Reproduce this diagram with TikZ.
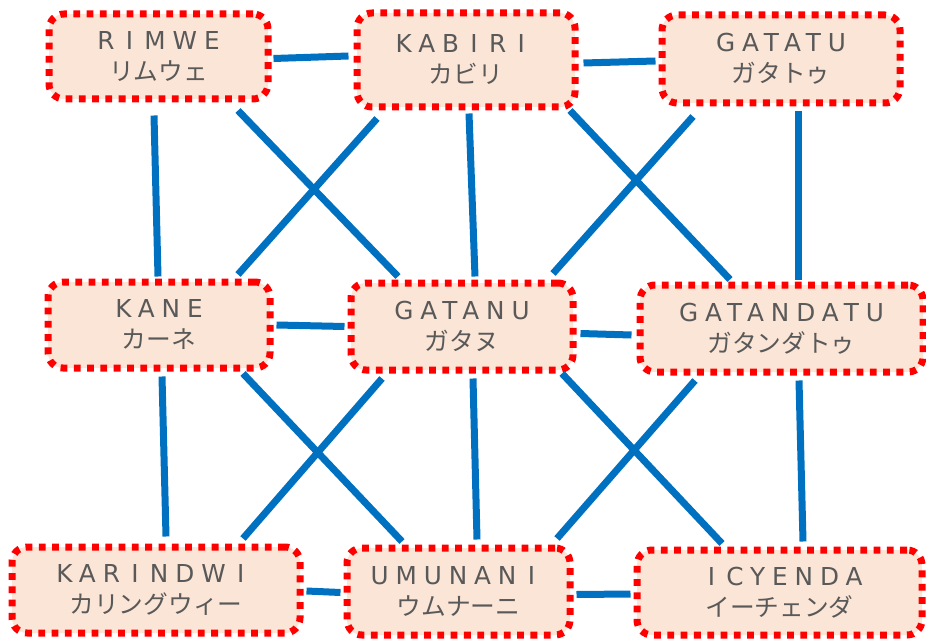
\documentclass[tikz,border=0pt]{standalone}
\usepackage{fontspec}
\setmainfont{Noto Sans CJK JP}
\newfontfamily\romafont[LetterSpace=28]{DejaVu Sans}
\definecolor{boxfill}{HTML}{FBE5D6}
\definecolor{linkblue}{HTML}{0070C0}
\definecolor{textgray}{HTML}{595959}
\newcommand{\wI}{\makebox[30pt]{I}}
\tikzset{
  village/.style={draw=red, fill=boxfill, line width=7pt, dash pattern=on 6.8pt off 6.5pt,
    rounded corners=15pt, inner sep=0pt, align=center, text=textgray,
    font=\fontsize{24.7}{31}\selectfont},
  link/.style={draw=linkblue, line width=7pt},
}

\begin{document}
\begin{tikzpicture}[x=1pt,y=-1pt]
    \useasboundingbox (0,0) rectangle (926,639);
    \node[village, minimum width=219pt, minimum height=85pt] (rimwe) at (158.5,56.5) {{\romafont R\wI MWE}\\リムウェ};
    \node[village, minimum width=218pt, minimum height=94pt] (kabiri) at (466,60) {{\romafont KAB\wI R\wI}\\カビリ};
    \node[village, minimum width=238pt, minimum height=88pt] (gatatu) at (781,59) {{\romafont GATATU}\\ガタトゥ};
    \node[village, minimum width=222pt, minimum height=86pt] (kane) at (159,325) {{\romafont KANE}\\カーネ};
    \node[village, minimum width=222pt, minimum height=87pt] (gatanu) at (462,326.5) {{\romafont GATANU}\\ガタヌ};
    \node[village, minimum width=283pt, minimum height=87pt] (gatandatu) at (781.5,328.5) {{\romafont GATANDATU}\\ガタンダトゥ};
    \node[village, minimum width=288pt, minimum height=86pt] (karindwi) at (156,590) {{\romafont KAR\wI NDW\wI}\\カリングウィー};
    \node[village, minimum width=223pt, minimum height=87pt] (umunani) at (458.5,591.5) {{\romafont UMUNAN\wI}\\ウムナーニ};
    \node[village, minimum width=285pt, minimum height=85pt] (icyenda) at (779.5,592.5) {{\romafont \wI CYENDA}\\イーチェンダ};

    % row links
    \draw[link] ([shift={(2,2)}]rimwe.east) -- ([shift={(-5,-4)}]kabiri.west);
    \draw[link] ([shift={(5,3)}]kabiri.east) -- ([shift={(-3,2)}]gatatu.west);
    \draw[link] ([shift={(3,0)}]kane.east) -- ([shift={(-3,0)}]gatanu.west);
    \draw[link] ([shift={(4,7)}]gatanu.east) -- ([shift={(-5,6.5)}]gatandatu.west);
    \draw[link] ([shift={(3,1)}]karindwi.east) -- ([shift={(-3,1)}]umunani.west);
    \draw[link] ([shift={(3,3)}]umunani.east) -- ([shift={(-3,1.5)}]icyenda.west);

    % column links
    \draw[link] ([shift={(-4.5,13)}]rimwe.south) -- ([shift={(-1,-2)}]kane.north);
    \draw[link] ([shift={(3,3)}]kabiri.south) -- ([shift={(13,-3)}]gatanu.north);
    \draw[link] ([shift={(17,5)}]gatatu.south) -- ([shift={(16.5,-2)}]gatandatu.north);
    \draw[link] ([shift={(3,5)}]kane.south) -- ([shift={(10,-7)}]karindwi.north);
    \draw[link] ([shift={(11,5)}]gatanu.south) -- ([shift={(18.5,-5)}]umunani.north);
    \draw[link] ([shift={(17.5,5)}]gatandatu.south) -- ([shift={(23.5,-5)}]icyenda.north);

    % crossings
    \draw[link] ([shift={(79.5,8)}]rimwe.south) -- ([shift={(-64,-3)}]gatanu.north);
    \draw[link] ([shift={(-89,8)}]kabiri.south) -- ([shift={(79,-4)}]kane.north);
    \draw[link] ([shift={(104,0)}]kabiri.south) -- ([shift={(-51.5,-2)}]gatandatu.north);
    \draw[link] ([shift={(-88,10)}]gatatu.south) -- ([shift={(91,-6)}]gatanu.north);
    \draw[link] ([shift={(84,2)}]kane.south) -- ([shift={(-56.5,-3)}]umunani.north);
    \draw[link] ([shift={(-80,5)}]gatanu.south) -- ([shift={(87,-5)}]karindwi.north);
    \draw[link] ([shift={(100,0)}]gatanu.south) -- ([shift={(-57.5,-3)}]icyenda.north);
    \draw[link] ([shift={(-86.5,5)}]gatandatu.south) -- ([shift={(98.5,-6)}]umunani.north);
\end{tikzpicture}
\end{document}
